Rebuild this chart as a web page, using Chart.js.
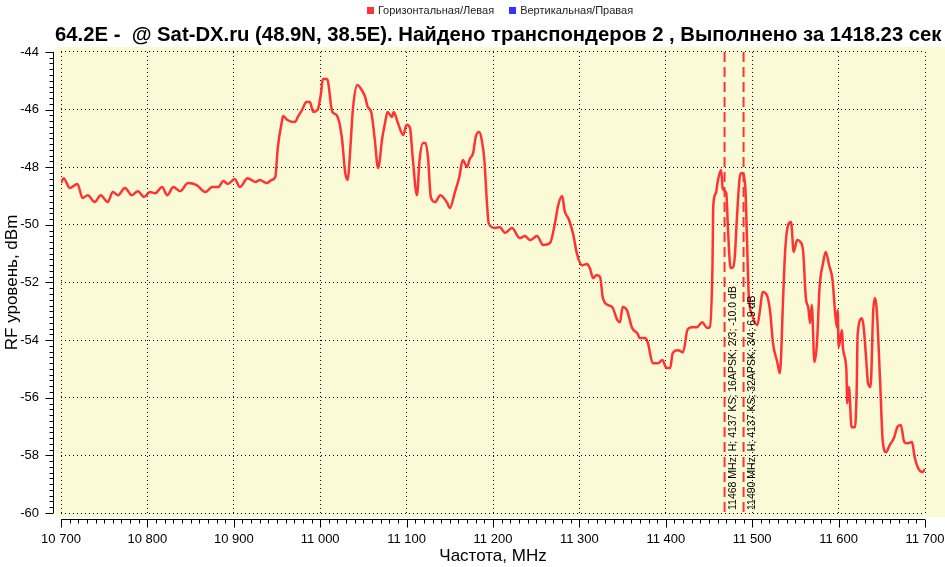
<!DOCTYPE html>
<html>
<head>
<meta charset="utf-8">
<script src="https://cdn.jsdelivr.net/npm/chart.js@4.4.1/dist/chart.umd.min.js"></script>
<style>
  html, body { margin: 0; padding: 0; background: #fff; }
  #wrap { width: 945px; height: 567px; }
</style>
</head>
<body>
<div id="wrap"><canvas id="spectrumChart"></canvas></div>
<script>
// spectrum scan, 10700..11700 MHz

const freqs = [
  10700,10703,10710,10719,10725,10731,10739,10746,10754,10760,
  10766,10774,10782,10789,10796,10803,10809,10817,10823,10830,
  10838,10847,10857,10867,10875,10882,10888,10893,10901,10907,
  10916,10925,10930,10938,10944,10948,10951,10956,10957,10962,
  10971,10974,10979,10984,10988,10992,10997,11001,11003,11008,
  11014,11019,11025,11029,11032,11034,11038,11043,11048,11052,
  11055,11059,11063,11067,11072,11075,11078,11083,11085,11090,
  11096,11100,11104,11107,11112,11115,11119,11122,11125,11128,
  11133,11139,11147,11150,11156,11161,11165,11170,11173,11177,
  11180,11184,11187,11190,11193,11195,11202,11208,11214,11222,
  11231,11237,11243,11251,11258,11266,11272,11275,11280,11283,
  11288,11293,11297,11303,11309,11312,11316,11320,11324,11327,
  11333,11338,11344,11347,11350,11355,11361,11367,11370,11376,
  11379,11385,11391,11396,11401,11405,11408,11414,11420,11425,
  11430,11436,11442,11448,11451,11454,11455,11458,11460,11464,
  11466,11470,11472,11475,11478,11480,11482,11486,11488,11492,
  11494,11496,11500,11503,11506,11509,11512,11517,11521,11524,
  11529,11532,11536,11538,11540,11545,11548,11552,11556,11559,
  11562,11565,11567,11569,11572,11575,11578,11582,11585,11589,
  11593,11596,11598,11599,11600,11604,11605,11609,11610,11612,
  11615,11619,11621,11622,11627,11629,11632,11634,11637,11640,
  11642,11644,11648,11651,11655,11659,11664,11668,11672,11676,
  11679,11685,11688,11692,11697,11700
];

const levelH = [
  -48.55,-48.38,-48.72,-48.58,-49.07,-48.97,-49.21,-48.97,-49.21,-48.86,
  -48.97,-48.72,-48.97,-48.83,-49.03,-48.86,-48.90,-48.69,-48.97,-48.69,
  -48.83,-48.55,-48.62,-48.86,-48.69,-48.69,-48.48,-48.58,-48.41,-48.69,
  -48.38,-48.51,-48.44,-48.55,-48.44,-48.34,-47.30,-46.36,-46.22,-46.36,
  -46.43,-46.26,-46.01,-45.74,-45.74,-46.08,-46.01,-45.42,-44.94,-44.94,
  -46.08,-46.19,-46.95,-48.20,-48.44,-47.75,-45.94,-45.15,-45.32,-45.56,
  -45.91,-46.08,-46.99,-48.03,-46.95,-46.47,-46.08,-46.26,-46.08,-46.47,
  -46.88,-46.53,-46.64,-47.65,-48.97,-47.75,-47.16,-47.16,-47.75,-49.03,
  -49.21,-48.97,-49.24,-49.42,-48.86,-48.34,-47.75,-47.99,-47.72,-47.51,
  -46.95,-46.78,-47.06,-47.75,-49.24,-49.94,-50.11,-50.08,-50.28,-50.11,
  -50.46,-50.39,-50.53,-50.39,-50.70,-50.63,-49.90,-49.38,-49.00,-49.52,
  -49.83,-50.35,-50.98,-51.40,-51.36,-51.50,-51.85,-51.74,-51.81,-52.51,
  -52.78,-52.85,-53.31,-53.38,-52.85,-52.96,-53.58,-53.76,-53.93,-53.93,
  -54.07,-54.80,-54.80,-54.69,-54.97,-54.97,-54.45,-54.35,-54.42,-53.65,
  -53.55,-53.55,-53.38,-53.58,-53.55,-51.47,-49.31,-48.90,-48.51,-48.10,
  -48.76,-48.90,-50.18,-51.50,-51.47,-51.05,-49.94,-48.27,-48.20,-48.69,
  -50.53,-52.44,-53.13,-53.38,-53.48,-52.96,-52.33,-52.44,-53.06,-54.10,
  -54.76,-55.15,-52.37,-50.98,-50.25,-49.90,-50.94,-50.53,-50.60,-50.94,
  -52.51,-52.89,-53.41,-52.78,-54.76,-54.10,-52.16,-51.33,-50.94,-51.40,
  -51.92,-53.06,-53.55,-52.96,-54.24,-53.65,-54.28,-55.04,-56.19,-55.63,
  -57.02,-57.02,-55.63,-53.83,-53.24,-53.55,-54.69,-55.49,-55.63,-53.03,
  -52.54,-52.89,-55.39,-57.47,-57.89,-57.65,-57.40,-57.02,-56.95,-57.54,
  -57.58,-57.54,-58.06,-58.44,-58.58,-58.48
];

const levelV = [];

const xTicks = [10700,10800,10900,11000,11100,11200,11300,11400,11500,11600,11700];
const yTicks = [-60,-58,-56,-54,-52,-50,-48,-46,-44];

const markerFreqs = [11468, 11490];
const markerLabels = [
  "11468 MHz; H; 4137 KS; 16APSK; 2/3; -10.0 dB",
  "11490 MHz; H; 4137 KS; 32APSK; 3/4; 6.9 dB"
];

const titleText = "64.2E -  @ Sat-DX.ru (48.9N, 38.5E). Найдено транспондеров 2 , Выполнено за 1418.23 сек";

const FONT = "'Liberation Sans', Arial, sans-serif";

function spaced(v) {
  return String(v).replace(/\B(?=(\d{3})+(?!\d))/g, " ");
}

// yellow plot background
const plotBg = {
  id: "plotBg",
  beforeDraw(chart) {
    const {ctx, chartArea: a} = chart;
    ctx.save();
    ctx.fillStyle = "#ffffff";
    ctx.fillRect(0, 0, chart.width, chart.height);
    ctx.fillStyle = "#fafad7";
    ctx.fillRect(a.left - 5, a.top - 5, chart.width - a.left + 5, a.bottom - a.top + 9);
    ctx.restore();
  }
};

// title starts above the y axis, overflowing to the right like the original
const shiftTitle = {
  id: "shiftTitle",
  afterLayout(chart) {
    if (chart.titleBlock) { chart.titleBlock.left = 55; chart.titleBlock.right = 3000; }
  }
};

// compact legend row at the very top (box, small gap, text)
const topLegend = {
  id: "topLegend",
  afterDraw(chart) {
    const {ctx} = chart;
    const items = chart.data.datasets.map(d => ({ text: d.label, color: d.borderColor }));
    ctx.save();
    ctx.font = "11px " + FONT;
    const box = 7, gap = 4, spacing = 15;
    const widths = items.map(it => box + gap + ctx.measureText(it.text).width);
    const total = widths.reduce((s, w) => s + w, 0) + spacing * (items.length - 1);
    let cx = 500 - total / 2;
    const cy = 11;
    ctx.textBaseline = "middle";
    items.forEach((it, i) => {
      ctx.fillStyle = it.color;
      ctx.fillRect(Math.round(cx), cy - 4, box, box);
      ctx.fillStyle = "#222";
      ctx.fillText(it.text, cx + box + gap, cy);
      cx += widths[i] + spacing;
    });
    ctx.restore();
  }
};

// axis lines with major + minor ticks, sitting a little off the plot
const axesLines = {
  id: "axesLines",
  afterDraw(chart) {
    const {ctx, chartArea: a, scales: {x, y}} = chart;
    ctx.save();
    ctx.strokeStyle = "#000";
    ctx.lineWidth = 1;
    const ax = Math.round(a.left) - 7.5;
    const ay = Math.round(a.bottom) + 6.5;
    ctx.beginPath();
    ctx.moveTo(ax, y.getPixelForValue(-44));
    ctx.lineTo(ax, y.getPixelForValue(-60));
    for (let i = 0; i <= 80; i++) {
      const v = -60 + i * 0.2;
      const py = Math.round(y.getPixelForValue(v)) + 0.5;
      const len = i % 10 === 0 ? 8 : 4;
      ctx.moveTo(ax, py);
      ctx.lineTo(ax - len, py);
    }
    ctx.moveTo(x.getPixelForValue(10700), ay);
    ctx.lineTo(x.getPixelForValue(11700), ay);
    for (let i = 0; i <= 100; i++) {
      const v = 10700 + i * 10;
      const px = Math.round(x.getPixelForValue(v)) + 0.5;
      const len = i % 10 === 0 ? 8 : 4;
      ctx.moveTo(px, ay);
      ctx.lineTo(px, ay + len);
    }
    ctx.stroke();
    ctx.restore();
  }
};

// transponder markers
const markers = {
  id: "markers",
  afterDatasetsDraw(chart) {
    const {ctx, chartArea: a, scales: {x}} = chart;
    ctx.save();
    markerFreqs.forEach((f, i) => {
      const px = x.getPixelForValue(f);
      ctx.strokeStyle = "#ff3333";
      ctx.lineWidth = 2;
      ctx.setLineDash([10, 5]);
      ctx.beginPath();
      ctx.moveTo(px, a.top);
      ctx.lineTo(px, a.bottom);
      ctx.stroke();

      ctx.save();
      ctx.translate(px + 9, a.bottom - 3);
      ctx.rotate(-Math.PI / 2);
      ctx.fillStyle = "#000";
      ctx.font = "10.5px " + FONT;
      ctx.textAlign = "left";
      ctx.textBaseline = "middle";
      ctx.fillText(markerLabels[i], 0, 0);
      ctx.restore();
    });
    ctx.restore();
  }
};

new Chart(document.getElementById("spectrumChart"), {
  type: "line",
  data: {
    datasets: [{
      label: "Горизонтальная/Левая",
      data: freqs.map((f, i) => ({x: f, y: levelH[i]})),
      borderColor: "#ff3333",
      backgroundColor: "#ff3333",
      borderWidth: 2.5,
      pointRadius: 0,
      cubicInterpolationMode: "monotone",
      fill: false
    }, {
      label: "Вертикальная/Правая",
      data: levelV,
      borderColor: "#3333ff",
      backgroundColor: "#3333ff",
      borderWidth: 2.5,
      pointRadius: 0
    }]
  },
  options: {
    responsive: true,
    maintainAspectRatio: false,
    animation: false,
    layout: { padding: { top: 23, right: 0, bottom: 0, left: 0 } },
    plugins: {
      legend: { display: false },
      title: {
        display: true,
        text: titleText,
        align: "start",
        color: "#000",
        font: { family: FONT, size: 20.3, weight: "bold" },
        padding: { top: 0, bottom: 4.6 }
      },
      tooltip: { enabled: false }
    },
    scales: {
      x: {
        type: "linear",
        min: 10700,
        max: 11700,
        afterBuildTicks(s) { s.ticks = xTicks.map(v => ({ value: v })); },
        afterFit(s) { s.height = 54; s.paddingLeft = 0; s.paddingRight = 20; },
        ticks: {
          font: { family: FONT, size: 13 },
          color: "#000",
          padding: 19,
          maxRotation: 0,
          callback: v => spaced(v)
        },
        grid: { color: "#000", lineWidth: 1, drawTicks: false },
        border: { display: false, dash: [1, 3] },
        title: {
          display: true,
          text: "Частота, MHz",
          color: "#000",
          font: { family: FONT, size: 17 },
          padding: { top: 0, bottom: 0 }
        }
      },
      y: {
        min: -60,
        max: -44,
        afterBuildTicks(s) { s.ticks = yTicks.map(v => ({ value: v })); },
        afterFit(s) { s.width = 61; },
        ticks: {
          font: { family: FONT, size: 13 },
          color: "#000",
          padding: 22
        },
        grid: { color: "#000", lineWidth: 1, drawTicks: false },
        border: { display: false, dash: [1, 3] },
        title: {
          display: true,
          text: "RF уровень, dBm",
          color: "#000",
          font: { family: FONT, size: 17 },
          padding: { top: 2, bottom: 0 }
        }
      }
    }
  },
  plugins: [plotBg, shiftTitle, topLegend, axesLines, markers]
});
</script>
</body>
</html>
